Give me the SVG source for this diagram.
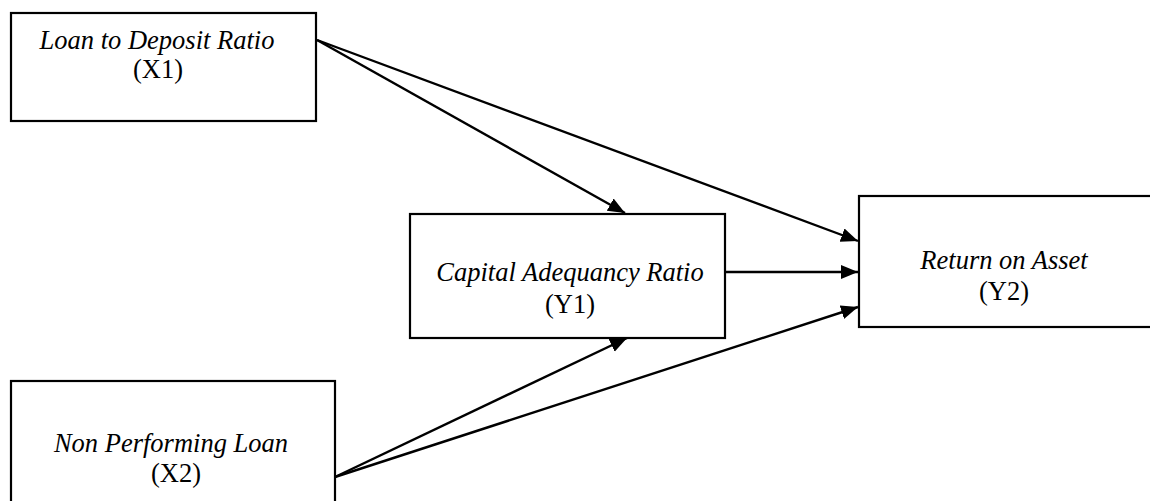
<svg xmlns="http://www.w3.org/2000/svg" width="1150" height="501" viewBox="0 0 1150 501">
<defs>
<style>
.box{fill:#fff;stroke:#000;stroke-width:2.2}
.t{font-family:"Liberation Serif",serif;font-size:26.5px;fill:#000;text-anchor:middle}
.i{font-style:italic}
.c{stroke:#000;stroke-width:2.4;fill:none;marker-end:url(#ah)}
</style>
<marker id="ah" markerUnits="userSpaceOnUse" markerWidth="18" markerHeight="16" refX="17" refY="8" orient="auto">
<path d="M0,1 L17,8 L0,15 Z" fill="#000"/>
</marker>
</defs>
<rect width="1150" height="501" fill="#fff"/>
<g id="connectors">
<line class="c" x1="317" y1="40" x2="858" y2="241"/>
<line class="c" x1="317" y1="40" x2="625" y2="213"/>
<line class="c" x1="725" y1="272" x2="858" y2="272"/>
<line class="c" x1="335" y1="477" x2="627" y2="338"/>
<line class="c" x1="335" y1="477" x2="858" y2="307"/>
</g>
<g id="X1">
<rect class="box" x="11" y="13" width="305" height="108"/>
<text class="t i" x="157" y="49">Loan to Deposit Ratio</text>
<text class="t" x="158" y="78">(X1)</text>
</g>
<g id="Y1">
<rect class="box" x="410" y="214" width="315" height="124"/>
<text class="t i" x="570" y="281">Capital Adequancy Ratio</text>
<text class="t" x="570" y="313">(Y1)</text>
</g>
<g id="Y2">
<rect class="box" x="859" y="196" width="310" height="131"/>
<text class="t i" x="1004" y="269">Return on Asset</text>
<text class="t" x="1004" y="300">(Y2)</text>
</g>
<g id="X2">
<rect class="box" x="11" y="381" width="324" height="140"/>
<text class="t i" x="171" y="452">Non Performing Loan</text>
<text class="t" x="176" y="482">(X2)</text>
</g>
</svg>
